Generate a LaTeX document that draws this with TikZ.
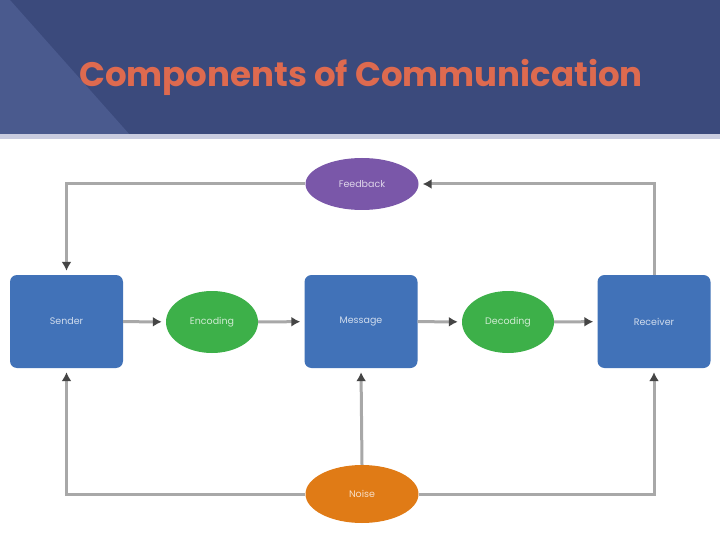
\documentclass[tikz,border=0pt]{standalone}
\usepackage{fontspec}
\setmainfont{Poppins}
\usetikzlibrary{arrows.meta,positioning,shapes.geometric}
\definecolor{navy}{HTML}{3B4A7C}
\definecolor{navylight}{HTML}{4A5A8E}
\definecolor{strip}{HTML}{C9CCE0}
\definecolor{titlered}{HTML}{DE6A4F}
\definecolor{boxblue}{HTML}{4172B8}
\definecolor{codegreen}{HTML}{3DB049}
\definecolor{fbpurple}{HTML}{7A57A9}
\definecolor{noiseorange}{HTML}{E07B16}
\definecolor{linkgray}{HTML}{A8A8A8}
\definecolor{tipgray}{HTML}{454545}

\begin{document}
\begin{tikzpicture}[x=1pt,y=-1pt,
  box/.style={fill=boxblue,rounded corners=7pt,minimum width=113pt,minimum height=93pt,
    text=white!75!boxblue,font=\fontsize{9.5}{11}\selectfont},
  oval/.style={ellipse,minimum width=92pt,minimum height=62pt,
    text=white!75!#1,fill=#1,font=\fontsize{9.5}{11}\selectfont},
  link/.style={draw=linkgray,line width=3pt,shorten >=4pt,
    -{Latex[color=tipgray,length=9pt,width=10pt]}}]
  % page and header
  \useasboundingbox (0,0) rectangle (720,540);
  \fill[white] (0,0) rectangle (720,540);
  \fill[navy] (0,0) rectangle (720,135);
  \fill[navylight] (0,0) -- (10,0) -- (130,135) -- (0,135) -- cycle;
  \fill[strip] (0,134) rectangle (720,139);
  \node[font=\fontsize{34}{38}\selectfont\bfseries,text=titlered] (title) at (361,77) {Components of Communication};

  % main row
  \node[box] (sender) at (66.5,321.5) {Sender};
  \node[oval=codegreen] (encoding) at (212,322) {Encoding};
  \node[box] (message) at (361,321.5) {Message};
  \node[oval=codegreen] (decoding) at (508,322) {Decoding};
  \node[box] (receiver) at (654,321.5) {Receiver};

  \node[oval=fbpurple,minimum width=113pt,minimum height=52pt] (feedback) at (362,184) {Feedback};
  \node[oval=noiseorange,minimum width=113pt,minimum height=58pt] (noise) at (362,494) {Noise};

  % connectors
  \draw[link] (sender) -- (encoding);
  \draw[link] (encoding) -- (message);
  \draw[link] (message) -- (decoding);
  \draw[link] (decoding) -- (receiver);
  \draw[link] (receiver.north) |- (feedback.east);
  \draw[link] (feedback.west) -| (sender.north);
  \draw[link] (noise.west) -| (sender.south);
  \draw[link] (noise.east) -| (receiver.south);
  \draw[link] (noise.north) -- (message.south);
\end{tikzpicture}
\end{document}
